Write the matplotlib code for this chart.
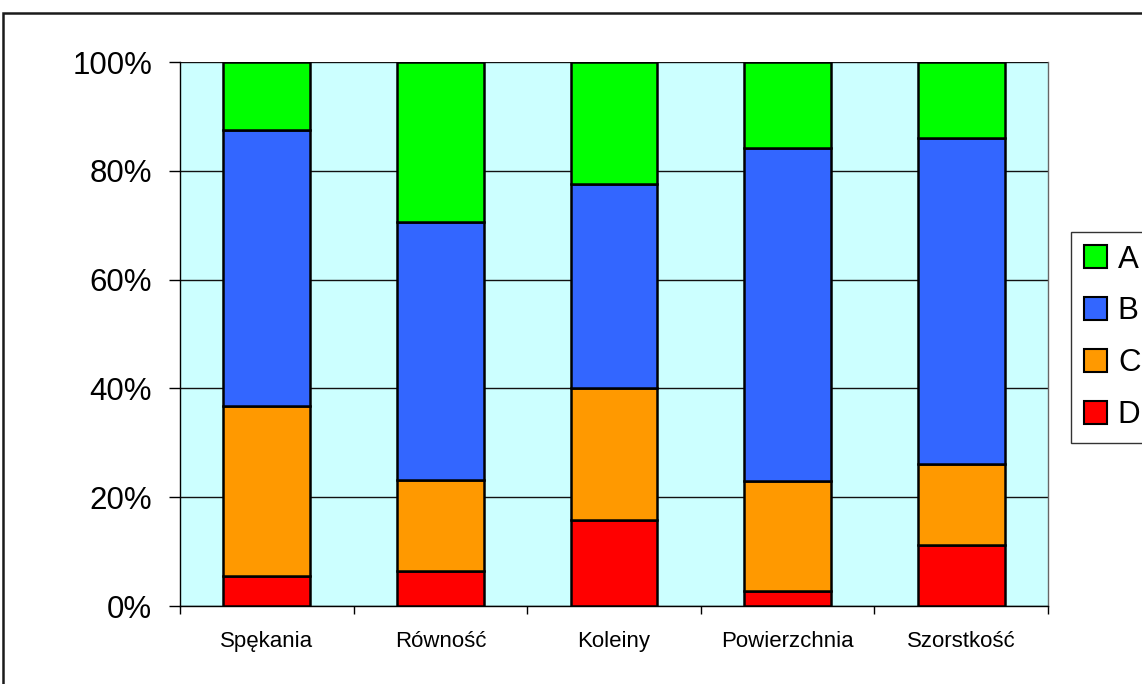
import matplotlib
matplotlib.use("Agg")
import matplotlib.pyplot as plt
from matplotlib.patches import Rectangle, Patch
import numpy as np

plt.rcParams['font.family'] = ['Liberation Sans', 'DejaVu Sans']

# Categories and the share of each rating class (percent of sections)
categories = ["Spękania", "Równość", "Koleiny", "Powierzchnia", "Szorstkość"]
share_D = [5.6, 6.4, 15.9, 2.7, 11.3]
share_C = [31.2, 16.8, 24.2, 20.2, 14.8]
share_B = [50.7, 47.3, 37.5, 61.2, 60.0]
share_A = [12.5, 29.5, 22.4, 15.9, 13.9]
series_labels = ["A", "B", "C", "D"]
series_colors = {"A": "#00FF00", "B": "#3366FF", "C": "#FF9900", "D": "#FF0000"}
y_ticks = [0, 20, 40, 60, 80, 100]
y_tick_labels = ["0%", "20%", "40%", "60%", "80%", "100%"]

W, H = 1142, 684
fig = plt.figure(figsize=(W / 100, H / 100), dpi=100)
fig.patch.set_facecolor("white")

# Outer chart frame
fig.add_artist(Rectangle((3 / W, -0.2), 1.5, 1 - 13 / H + 0.2,
                         transform=fig.transFigure, fill=False,
                         edgecolor="#1a1a1a", linewidth=1.8, clip_on=False))

ax = fig.add_axes([180 / W, 1 - 606 / H, 868 / W, 544 / H])
ax.set_facecolor("#CCFFFF")

x = np.arange(len(categories))
series = [("D", share_D), ("C", share_C), ("B", share_B), ("A", share_A)]
bottom = np.zeros(len(categories))
for name, vals in series:
    vals = np.array(vals, dtype=float)
    ax.bar(x, vals, width=0.5, bottom=bottom, color=series_colors[name],
           edgecolor="black", linewidth=1.8, zorder=3)
    bottom += vals

ax.set_xlim(-0.5, len(categories) - 0.5)
ax.set_ylim(0, 100)

ax.set_yticks(y_ticks)
ax.set_yticklabels(y_tick_labels, fontsize=22.5)
ax.yaxis.grid(True, color="#111111", linewidth=1.0, zorder=1)
ax.set_axisbelow(True)
ax.tick_params(axis="y", direction="out", length=8, width=1, pad=12, color="black")

# Category labels between boundary ticks
ax.set_xticks(x)
ax.set_xticklabels(categories, fontsize=16)
ax.set_xticks(np.arange(len(categories) + 1) - 0.5, minor=True)
ax.tick_params(axis="x", which="major", length=0, pad=18)
ax.tick_params(axis="x", which="minor", direction="out", length=6, width=1, color="black")

ax.spines["top"].set_visible(False)
ax.spines["right"].set_color("#666666")
ax.spines["right"].set_linewidth(1.0)
ax.spines["left"].set_color("black")
ax.spines["bottom"].set_color("black")
ax.spines["left"].set_linewidth(1.0)
ax.spines["bottom"].set_linewidth(1.0)

handles = [Patch(facecolor=series_colors[s], edgecolor="black", linewidth=1.5)
           for s in series_labels]
leg = fig.legend(handles, series_labels, loc="upper left",
                 bbox_to_anchor=(1071 / W, 1 - 232 / H), bbox_transform=fig.transFigure,
                 fontsize=22.5, frameon=True, fancybox=False, borderaxespad=0,
                 handlelength=0.75, handleheight=0.75, handletextpad=0.35,
                 labelspacing=0.7, borderpad=0.4)
leg.get_frame().set_edgecolor("black")
leg.get_frame().set_linewidth(1.0)

fig.savefig("out.png", dpi=100)
